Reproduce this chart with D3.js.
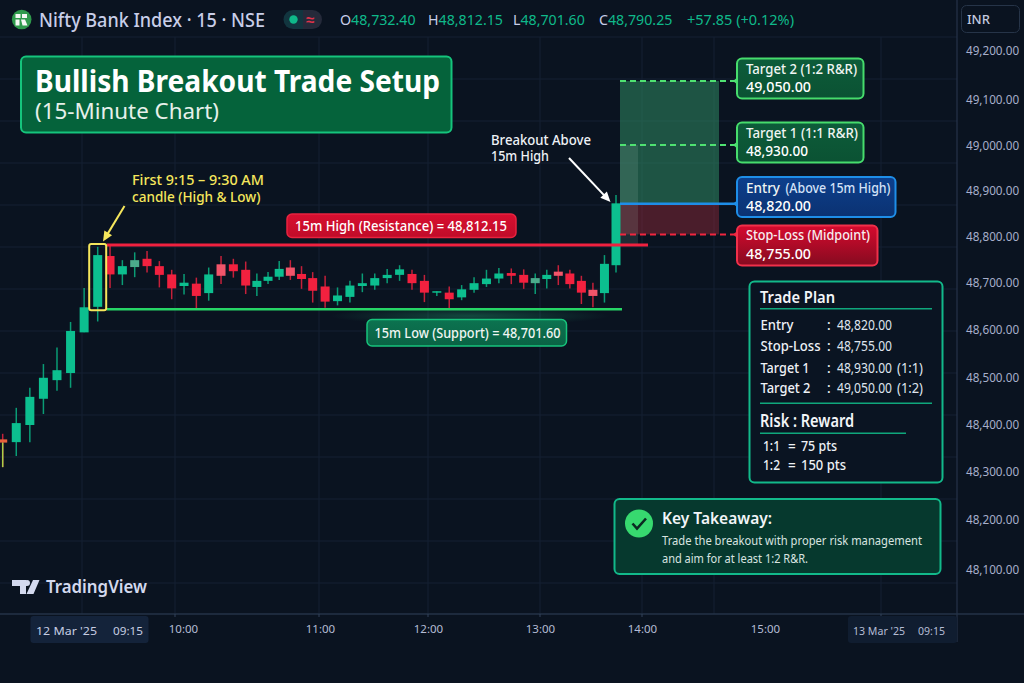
<!DOCTYPE html>
<html>
<head>
<meta charset="utf-8">
<title>Bullish Breakout Trade Setup</title>
<script src="https://cdn.jsdelivr.net/npm/d3@7"></script>
<style>
  html, body { margin: 0; padding: 0; background: #0a1320; }
  svg { display: block; }
  text { font-family: "Noto Sans", sans-serif; }
</style>
</head>
<body>
<div id="chart"></div>
<script>
// candles, one row per 15 min bar
const opens  = [48369,48363,48400,48455,48494,48509,48595,48649,48758,48718,48734,48752,48736,48718,48693,48698,48678,48740,48740,48728,48691,48704,48713,48733,48719,48710,48692,48661,48670,48693,48694,48710,48717,48719,48704,48679,48679,48669,48685,48697,48709,48721,48717,48699,48708,48724,48720,48704,48685,48678,48738];
const highs  = [48381,48436,48478,48528,48563,48617,48689,48778,48780,48749,48766,48769,48747,48728,48719,48711,48733,48758,48752,48746,48720,48723,48747,48749,48736,48723,48715,48690,48704,48720,48720,48730,48738,48728,48717,48682,48692,48695,48712,48728,48732,48731,48729,48720,48728,48738,48728,48715,48700,48760,48891];
const lows   = [48309,48333,48363,48423,48472,48478,48595,48618,48689,48695,48712,48722,48690,48665,48675,48646,48662,48697,48711,48676,48672,48697,48706,48706,48687,48658,48647,48652,48658,48680,48685,48699,48704,48685,48659,48672,48644,48663,48679,48691,48699,48697,48687,48676,48688,48695,48688,48655,48648,48658,48722];
const closes = [48362,48404,48459,48499,48515,48598,48648,48760,48718,48736,48749,48736,48717,48688,48700,48672,48718,48715,48725,48694,48704,48713,48730,48715,48708,48683,48660,48673,48694,48699,48710,48717,48729,48699,48679,48682,48665,48686,48699,48709,48720,48715,48700,48710,48717,48715,48697,48679,48672,48741,48873];
const fadedBars = [10, 17, 23, 43, 45, 48];

// axis
const priceTicks = [49200,49100,49000,48900,48800,48700,48600,48500,48400,48300,48200,48100];
const timeTicks = [10, 11, 12, 13, 14, 15];

// levels where they sit against the price axis (the captions quote other numbers)
const levelHigh = 48782;
const levelLow = 48644;
const levelTarget2 = 49139;
const levelTarget1 = 49002;
const levelEntry = 48872;
const levelStop = 48805;

// texts
const ohlcNames = ["O", "H", "L", "C"];
const ohlcValues = ["48,732.40", "48,812.15", "48,701.60", "48,790.25"];
const planNames = ["Entry", "Stop-Loss", "Target 1", "Target 2"];
const planValues = ["48,820.00", "48,755.00", "48,930.00", "49,050.00"];
const planRatios = ["", "", "(1:1)", "(1:2)"];
const rewardNames = ["1:1", "1:2"];
const rewardValues = ["75 pts", "150 pts"];

const width = 1024, height = 683;
const axisX = 957, axisY = 614;
const bg = "#0a1320", up = "#0cbf8f", down = "#f2213f";

const svg = d3.select("#chart").append("svg").attr("width", width).attr("height", height);
svg.append("rect").attr("width", width).attr("height", height).attr("fill", bg);

const defs = svg.append("defs");
function gradient(id, top, bottom) {
    const g = defs.append("linearGradient").attr("id", id).attr("x1", 0).attr("x2", 0).attr("y1", 0).attr("y2", 1);
    g.append("stop").attr("offset", 0).attr("stop-color", top);
    g.append("stop").attr("offset", 1).attr("stop-color", bottom);
}
gradient("stopFill", "#d60a2e", "#850b20");
gradient("entryFill", "#0d3f8c", "#0b3272");
gradient("targetFill", "#0d5c3a", "#0b5233");
gradient("resFill", "#d80f30", "#c00c29");
gradient("supFill", "#0c7350", "#0a6244");
const glow = defs.append("radialGradient").attr("id", "lowGlow");
glow.append("stop").attr("offset", 0).attr("stop-color", "#1c8a62").attr("stop-opacity", 0.45);
glow.append("stop").attr("offset", 1).attr("stop-color", "#1c8a62").attr("stop-opacity", 0);

// the picture's axis is not evenly spaced, so the scales are piecewise
const y = d3.scaleLinear()
    .domain(priceTicks)
    .range([51, 100, 146, 191, 236.7, 282.7, 330, 377.3, 425, 471.3, 519.3, 570]);
const x = d3.scaleLinear()
    .domain([0, 7, 19, 25, 42, 50])
    .range([2.7, 97.7, 245.7, 312.7, 523.7, 616]);
const timeX = d3.scaleLinear()
    .domain(timeTicks)
    .range([183, 320, 428, 540, 642, 765]);

// grid, does not follow the labels in the source either
const gridRows = d3.scaleLinear().domain([0, 13]).range([37, 583]);
svg.append("g").selectAll("line").data(d3.range(14)).join("line")
    .attr("x1", 0).attr("x2", axisX)
    .attr("y1", d => gridRows(d)).attr("y2", d => gridRows(d))
    .attr("stroke", "#152132").attr("stroke-width", 1);
svg.append("g").selectAll("line").data([82, 175, 319, 428, 540, 642, 714, 881]).join("line")
    .attr("x1", d => d).attr("x2", d => d)
    .attr("y1", 37).attr("y2", axisY)
    .attr("stroke", "#152132").attr("stroke-width", 1);

// reward / risk zones
const zoneLeft = 620, zoneRight = 719;
svg.append("rect").attr("x", zoneLeft).attr("width", zoneRight - zoneLeft)
    .attr("y", y(levelTarget2)).attr("height", y(levelEntry) - y(levelTarget2))
    .attr("fill", "#2f8a63").attr("opacity", 0.55);
svg.append("rect").attr("x", zoneLeft).attr("width", zoneRight - zoneLeft)
    .attr("y", y(levelEntry)).attr("height", y(levelStop) - y(levelEntry))
    .attr("fill", "#a42a3c").attr("opacity", 0.42);
svg.append("rect").attr("x", zoneLeft).attr("width", 18)
    .attr("y", y(levelTarget1)).attr("height", y(levelHigh) - y(levelTarget1))
    .attr("fill", "#b8d8c8").attr("opacity", 0.13);

// soft glow under the range low
svg.append("ellipse").attr("cx", 470).attr("cy", 316).attr("rx", 140).attr("ry", 9).attr("fill", "url(#lowGlow)");

// candles
const bars = svg.append("g").selectAll("g").data(opens.map((o, i) => i)).join("g");
function barColor(i) {
    if (i === 0) return "#e8603c";
    const rising = closes[i] >= opens[i];
    if (fadedBars.includes(i)) return rising ? "#4cab8c" : "#f2556a";
    return rising ? up : down;
}
bars.append("line")
    .attr("x1", i => x(i)).attr("x2", i => x(i))
    .attr("y1", i => y(highs[i])).attr("y2", i => y(lows[i]))
    .attr("stroke", i => closes[i] >= opens[i] ? "#0a9c75" : "#c5203a")
    .attr("stroke-width", 1.5);
bars.append("rect")
    .attr("x", i => x(i) - 4.5).attr("width", 9)
    .attr("y", i => y(Math.max(opens[i], closes[i])))
    .attr("height", i => Math.max(1.5, Math.abs(y(opens[i]) - y(closes[i]))))
    .attr("fill", barColor);
svg.append("line")
    .attr("x1", x(0)).attr("x2", x(0))
    .attr("y1", y(closes[0])).attr("y2", y(lows[0]))
    .attr("stroke", "#a8d048").attr("stroke-width", 1.5);

// high / low lines and first candle box
svg.append("line").attr("x1", 107).attr("x2", 648)
    .attr("y1", y(levelHigh)).attr("y2", y(levelHigh))
    .attr("stroke", "#f0213f").attr("stroke-width", 3);
svg.append("line").attr("x1", 107).attr("x2", 622)
    .attr("y1", y(levelLow)).attr("y2", y(levelLow))
    .attr("stroke", "#27d566").attr("stroke-width", 2.5);
svg.append("rect")
    .attr("x", x(7) - 8.5).attr("width", 17)
    .attr("y", y(levelHigh) - 1).attr("height", y(levelLow) - y(levelHigh) + 2)
    .attr("rx", 2).attr("fill", "none")
    .attr("stroke", "#f6e75c").attr("stroke-width", 2);

// dashed level lines running into their labels
const labelX = 737;
function levelLine(level, color, dash, sw) {
    svg.append("line").attr("x1", zoneLeft).attr("x2", labelX)
        .attr("y1", y(level)).attr("y2", y(level))
        .attr("stroke", color).attr("stroke-width", sw)
        .attr("stroke-dasharray", dash);
    svg.append("path")
        .attr("d", `M${labelX + 1},${y(level) - 4}L${labelX - 4},${y(level)}L${labelX + 1},${y(level) + 4}Z`)
        .attr("fill", color);
}
levelLine(levelTarget2, "#4fe272", "6 4", 2);
levelLine(levelTarget1, "#4fe272", "6 4", 2);
levelLine(levelEntry, "#1e8ee8", null, 2.5);
levelLine(levelStop, "#f0263f", "6 4", 2);

function box(x0, y0, w, h, fill, stroke, sw, r) {
    svg.append("rect").attr("x", x0).attr("y", y0).attr("width", w).attr("height", h)
        .attr("rx", r || 5).attr("fill", fill).attr("stroke", stroke).attr("stroke-width", sw || 2);
}
// w squeezes the text to the width it has in the source, whose type runs narrower
function label(t, tx, ty, size, color, weight, w) {
    const el = svg.append("text").attr("x", tx).attr("y", ty)
        .attr("font-size", size).attr("fill", color)
        .attr("font-weight", weight || 400)
        .text(t);
    if (w) el.attr("textLength", w).attr("lengthAdjust", "spacingAndGlyphs");
    return el;
}

// level captions
box(737, 58.5, 126.5, 40, "url(#targetFill)", "#46dc6c");
label("Target 2 (1:2 R&R)", 746, 74, 14, "#f0f5f2", 500, 111);
label("49,050.00", 746, 92, 14.5, "#ffffff", 500, 65);
box(737, 122.5, 126.5, 40, "url(#targetFill)", "#46dc6c");
label("Target 1 (1:1 R&R)", 746, 138, 14, "#f0f5f2", 500, 112);
label("48,930.00", 746, 156, 14.5, "#ffffff", 500, 62);
box(737, 177, 158.5, 40, "url(#entryFill)", "#1e8ee8");
label("Entry", 746, 193, 14, "#f0f5f2", 500, 34);
label("(Above 15m High)", 785.5, 193, 13.5, "#d3e2f8", 500, 105);
label("48,820.00", 746, 211, 14.5, "#ffffff", 500, 65);
box(737, 225.5, 140.5, 40, "url(#stopFill)", "#f0304a");
label("Stop-Loss (Midpoint)", 746, 240, 14, "#f7eef0", 500, 124);
label("48,755.00", 746, 259, 14.5, "#ffffff", 500, 65);

box(287, 214, 229, 23.5, "url(#resFill)", "#e8233f", 1.5);
label("15m High (Resistance) = 48,812.15", 295, 231, 14, "#ffffff", 500, 212);
box(367, 319.5, 199.5, 26.5, "url(#supFill)", "#17c47c", 1.5);
label("15m Low (Support) = 48,701.60", 374.5, 337.5, 14, "#f0f5f2", 500, 186);

// arrows
function arrow(x1, y1, x2, y2, color) {
    const a = Math.atan2(y2 - y1, x2 - x1), s = 11;
    svg.append("line").attr("x1", x1).attr("y1", y1)
        .attr("x2", x2 - 6 * Math.cos(a)).attr("y2", y2 - 6 * Math.sin(a))
        .attr("stroke", color).attr("stroke-width", 2);
    svg.append("path")
        .attr("d", `M${x2},${y2}L${x2 - s * Math.cos(a - 0.42)},${y2 - s * Math.sin(a - 0.42)}L${x2 - s * Math.cos(a + 0.42)},${y2 - s * Math.sin(a + 0.42)}Z`)
        .attr("fill", color);
}
arrow(124.5, 206, 103, 241.5, "#f6e75c");
arrow(569, 158, 610.5, 202, "#ffffff");
label("First 9:15 – 9:30 AM", 132, 185, 14, "#f6e75c", 500, 132);
label("candle (High & Low)", 132, 202, 14, "#f6e75c", 500, 128.5);
label("Breakout Above", 491, 145, 14, "#eef1f6", 500, 100);
label("15m High", 491, 161, 14, "#eef1f6", 500, 58);

// title
box(21, 56.5, 430.5, 76, "#05633b", "#15c47c");
label("Bullish Breakout Trade Setup", 35, 92, 30, "#ffffff", 700, 405);
label("(15-Minute Chart)", 35, 119, 22.5, "#e6f0ea", 400, 184);

// trade plan
box(749.5, 281.5, 193, 201, "#0a1422", "#12b98a");
label("Trade Plan", 760, 303, 16.5, "#f2f5f8", 600, 75);
function rule(x2, ry) {
    svg.append("line").attr("x1", 760).attr("x2", x2).attr("y1", ry).attr("y2", ry)
        .attr("stroke", "#0fa77c").attr("stroke-width", 1.5);
}
rule(932, 308.7);
const planRows = [329.5, 351, 372.5, 393];
const planNameWidths = [33, 60, 49, 50];
planNames.forEach((n, i) => {
    label(n, 760.5, planRows[i], 13.5, "#eef1f6", 500, planNameWidths[i]);
    label(":", 827, planRows[i], 13.5, "#eef1f6", 500);
    label(planValues[i], 837, planRows[i], 13.5, "#dfe4ee", 400, 55);
    if (planRatios[i]) label(planRatios[i], 897, planRows[i], 13.5, "#dfe4ee", 400, 26);
});
rule(932, 403.3);
label("Risk : Reward", 760, 427, 17, "#f2f5f8", 600, 94);
rule(906, 433.3);
const rewardRows = [451, 470];
rewardNames.forEach((n, i) => {
    label(n, 763, rewardRows[i], 13.5, "#eef1f6", 500, 17);
    label("=", 788, rewardRows[i], 13.5, "#eef1f6", 500);
    label(rewardValues[i], 801, rewardRows[i], 13.5, "#eef1f6", 500, i ? 45 : 36);
});

// key takeaway
box(614.5, 499, 326, 75, "#06392e", "#12b98a");
svg.append("circle").attr("cx", 639).attr("cy", 523.5).attr("r", 14).attr("fill", "#37d96f");
svg.append("path").attr("d", "M632.5,523.5L637,528.5L646,518.5")
    .attr("fill", "none").attr("stroke", "#0b2a22").attr("stroke-width", 2.6);
label("Key Takeaway:", 662, 524, 16.5, "#f2f5f8", 600, 110);
label("Trade the breakout with proper risk management", 662, 545, 13, "#d8e4e0", 400, 260);
label("and aim for at least 1:2 R&R.", 662, 563, 13, "#d8e4e0", 400, 146);

// header
svg.append("circle").attr("cx", 21.7).attr("cy", 19.5).attr("r", 9.8).attr("fill", "#2f9a4c");
svg.append("path").attr("d", "M15.5,14h5v4h-5zM22,14h5v4h-5zM15.5,19.5h4v6h-4zM21,19.5h4l2.5,6h-5z").attr("fill", "#f4f8f4");
label("Nifty Bank Index · 15 · NSE", 39, 26.5, 19, "#c8cee8", 500, 226);
svg.append("path").attr("d", "M303,10h-10a9.5,9.5 0 0 0 0,19h10z").attr("fill", "#12353f");
svg.append("path").attr("d", "M303,10h9.5a9.5,9.5 0 0 1 0,19h-9.5z").attr("fill", "#252a3a");
svg.append("circle").attr("cx", 293.5).attr("cy", 19.5).attr("r", 4.2).attr("fill", "#0fb98a");
label("≈", 306, 25, 15, "#e0324a", 600);
const ohlcX = [340, 428, 513, 599];
ohlcNames.forEach((n, i) => {
    const t = label(n, ohlcX[i], 25, 14.2, "#c8cee8");
    t.append("tspan").attr("fill", "#0fb98a").text(ohlcValues[i]);
});
label("+57.85 (+0.12%)", 687, 25, 14.2, "#0fb98a", 400, 107);

// price axis
svg.append("line").attr("x1", axisX).attr("x2", axisX).attr("y1", 0).attr("y2", 642)
    .attr("stroke", "#2a3950").attr("stroke-width", 1);
const priceAxis = svg.append("g").attr("transform", `translate(${axisX},0)`)
    .call(d3.axisRight(y).tickValues(priceTicks).tickFormat(d3.format(",.2f")).tickSize(0).tickPadding(9));
priceAxis.select(".domain").remove();
priceAxis.selectAll("text").attr("font-size", 11.7).attr("fill", "#a7afcb")
    .style("font-family", '"Noto Sans", sans-serif');
box(961.5, 5.5, 58, 27, "none", "#263448", 1, 5);
label("INR", 967, 24, 13, "#c2c9df", 500);

// time axis
svg.append("line").attr("x1", 0).attr("x2", width).attr("y1", axisY).attr("y2", axisY)
    .attr("stroke", "#253347").attr("stroke-width", 1.5);
svg.append("g").selectAll("line").data([175, 319, 428, 540, 642, 881]).join("line")
    .attr("x1", d => d).attr("x2", d => d).attr("y1", axisY).attr("y2", axisY + 3)
    .attr("stroke", "#33435a");
box(30.5, 616, 118, 27, "#14233a", "none", 0, 3);
box(848, 616, 109, 27, "#101d30", "none", 0, 3);
const timeAxis = svg.append("g").attr("transform", "translate(0,622)")
    .call(d3.axisBottom(timeX).tickValues(timeTicks).tickFormat(h => h + ":00").tickSize(0).tickPadding(3));
timeAxis.select(".domain").remove();
timeAxis.selectAll("text").attr("font-size", 11.5).attr("fill", "#b4bcd4")
    .style("font-family", '"Noto Sans", sans-serif');
label("12 Mar '25", 36, 635, 11.5, "#c6cde2", 400, 61);
label("09:15", 113, 635, 11.5, "#c6cde2", 400, 30);
label("13 Mar '25", 853, 635, 11.5, "#b4bcd4", 400, 52);
label("09:15", 918, 635, 11.5, "#b4bcd4", 400, 27);

// watermark
svg.append("path").attr("d", "M12,580h14v14h-6v-8h-8zM33,580h6.5L33.5,594h-7zM27,580a3,3 0 1 1 0,6a3,3 0 1 1 0,-6z").attr("fill", "#d3d9ee");
label("TradingView", 46, 593, 17.5, "#d3d9ee", 600, 101);
</script>
</body>
</html>
